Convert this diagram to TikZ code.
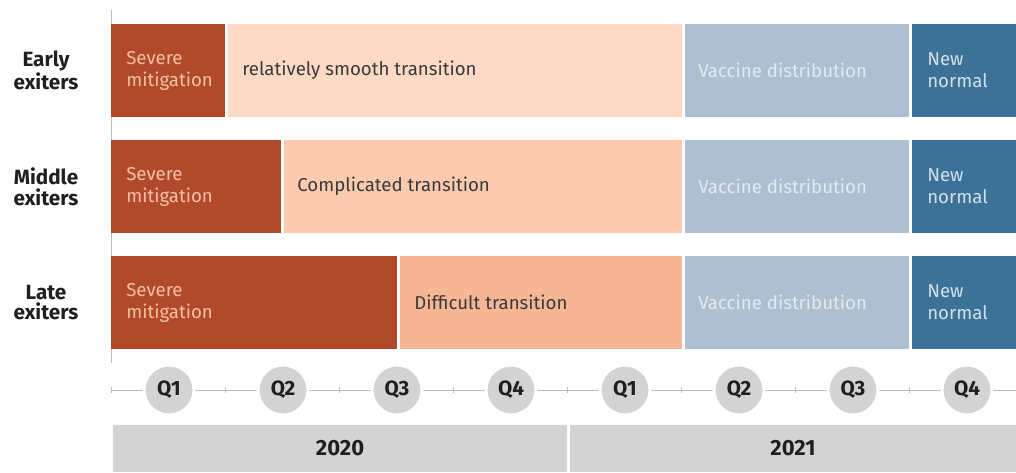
\documentclass[tikz,border=0pt]{standalone}
\usepackage{fontspec}
\setmainfont{Fira Sans}

\definecolor{severefill}{HTML}{B04A2B}
\definecolor{severetext}{HTML}{F5C0A2}
\definecolor{smoothfill}{HTML}{FDDAC5}
\definecolor{complicatedfill}{HTML}{FBCAAF}
\definecolor{difficultfill}{HTML}{F8B794}
\definecolor{vaccinefill}{HTML}{ADBFD1}
\definecolor{vaccinetext}{HTML}{E4EAF1}
\definecolor{normalfill}{HTML}{3C7298}
\definecolor{normaltext}{HTML}{D3E0EA}
\definecolor{axisgray}{HTML}{BDBDBD}
\definecolor{chipgray}{HTML}{D4D3D3}
\definecolor{inkgray}{HTML}{3A3A3A}

\begin{document}
\begin{tikzpicture}[x=0.75pt,y=-0.75pt,
    phase/.style={anchor=west,align=left,inner sep=0pt,
      font=\fontsize{14}{16.5}\selectfont},
    group/.style={align=center,inner sep=0pt,text=black!88,
      font=\bfseries\fontsize{15.5}{15.5}\selectfont},
    quarter/.style={circle,fill=chipgray,draw=white,line width=2.25pt,
      minimum size=37.5pt,inner sep=0pt,text=black!88,
      font=\bfseries\fontsize{15.5}{16}\selectfont},
    yearbar/.style={fill=chipgray,minimum height=35.25pt,inner sep=0pt,
      text=black!88,font=\bfseries\fontsize{16.5}{17}\selectfont},
    axis/.style={axisgray,line width=0.6pt}]

    \useasboundingbox (0,0) rectangle (1016,472);

    % left axis
    \draw[axis] (111,10) -- (111,363);

    % row labels
    \node[group] (early) at (46,70.5) {Early\\exiters};
    \node[group] (middle) at (46,186.5) {Middle\\exiters};
    \node[group] (late) at (46,302.5) {Late\\exiters};

    % mitigation and transition phases
    \fill[severefill] (111,24) rectangle (225,117);
    \node[phase,text=severetext] (sevA) at (126,70.5) {Severe\\mitigation};
    \fill[smoothfill] (228,24) rectangle (682,117);
    \node[phase,text=inkgray] (transA) at (242,70.5) {relatively smooth transition};

    \fill[severefill] (111,140) rectangle (281,233);
    \node[phase,text=severetext] (sevB) at (126,186.5) {Severe\\mitigation};
    \fill[complicatedfill] (284,140) rectangle (682,233);
    \node[phase,text=inkgray] (transB) at (297,186.5) {Complicated transition};

    \fill[severefill] (111,256) rectangle (397,349);
    \node[phase,text=severetext] (sevC) at (126,302.5) {Severe\\mitigation};
    \fill[difficultfill] (400,256) rectangle (682,349);
    \node[phase,text=inkgray] (transC) at (414,302.5) {Difficult transition};

    % vaccine and new normal, same in every row
    \foreach \r/\t in {A/24,B/140,C/256} {
      \fill[vaccinefill] (685,\t) rectangle (909,\t+93);
      \node[phase,text=vaccinetext] (vac\r) at (698,\t+46.5) {Vaccine distribution};
      \fill[normalfill] (912,\t) rectangle (1016,\t+93);
      \node[phase,text=normaltext] (new\r) at (927,\t+46.5) {New\\normal};
    }

    % quarter axis
    \draw[axis] (111,390) -- (1016,390);
    \foreach \i in {0,...,7}
      \draw[axis] (111+114*\i,387) -- (111+114*\i,393);
    \foreach \q [count=\i from 0] in {Q1,Q2,Q3,Q4,Q1,Q2,Q3,Q4}
      \node[quarter] (q\i) at (169+114*\i,390) {\q};

    % years
    \node[yearbar,minimum width=340.5pt] (y2020) at (340,448.5) {2020};
    \node[yearbar,minimum width=334.5pt] (y2021) at (793,448.5) {2021};

\end{tikzpicture}
\end{document}
